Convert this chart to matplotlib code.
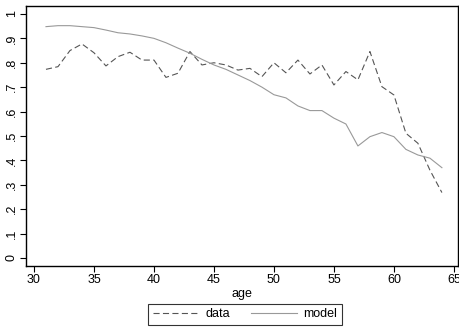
import matplotlib
matplotlib.use("Agg")
from matplotlib import pyplot as plt

plt.rcParams['font.family'] = ['Liberation Sans', 'DejaVu Sans']

ages = list(range(31, 65))
data = [0.773, 0.784, 0.850, 0.877, 0.841, 0.787, 0.825, 0.843, 0.811, 0.811,
        0.740, 0.757, 0.846, 0.791, 0.800, 0.791, 0.770, 0.777, 0.743, 0.800,
        0.759, 0.811, 0.754, 0.791, 0.709, 0.764, 0.730, 0.846, 0.702, 0.668,
        0.511, 0.470, 0.360, 0.268]
model = [0.948, 0.952, 0.952, 0.948, 0.944, 0.934, 0.923, 0.918, 0.910, 0.900,
         0.882, 0.860, 0.839, 0.814, 0.791, 0.773, 0.750, 0.727, 0.700, 0.669,
         0.656, 0.623, 0.604, 0.604, 0.573, 0.549, 0.459, 0.497, 0.514, 0.497,
         0.445, 0.422, 0.409, 0.370]
xticks = [30, 35, 40, 45, 50, 55, 60, 65]
yticks = [0, 0.1, 0.2, 0.3, 0.4, 0.5, 0.6, 0.7, 0.8, 0.9, 1.0]
ylabels = ["0", ".1", ".2", ".3", ".4", ".5", ".6", ".7", ".8", ".9", "1"]

fig = plt.figure(figsize=(4.59, 3.28), dpi=100)
ax = fig.add_axes([0.0566, 0.189, 0.941, 0.793])

ax.plot(ages, data, color="#555555", linestyle=(0, (5.5, 3)), linewidth=0.8, label="data")
ax.plot(ages, model, color="#999999", linestyle="-", linewidth=0.8, label="model")

ax.set_xlim(29.333, 65.333)
ax.set_ylim(-0.033, 1.033)
ax.set_xticks(xticks)
ax.set_yticks(yticks)
ax.set_yticklabels(ylabels, rotation=90, va="center")
ax.tick_params(direction="out", length=4, width=0.8, labelsize=9, pad=2)
for s in ax.spines.values():
    s.set_linewidth(1.0)
ax.set_xlabel("age", fontsize=9, labelpad=1)

leg = fig.legend(loc="upper center", bbox_to_anchor=(0.5335, 0.073), ncol=2,
                 fontsize=9, frameon=True, fancybox=False, edgecolor="black",
                 handlelength=3.7, handletextpad=0.5, columnspacing=1.7,
                 borderpad=0.35, borderaxespad=0)
leg.get_frame().set_linewidth(0.8)

fig.savefig("out.png", dpi=100)
